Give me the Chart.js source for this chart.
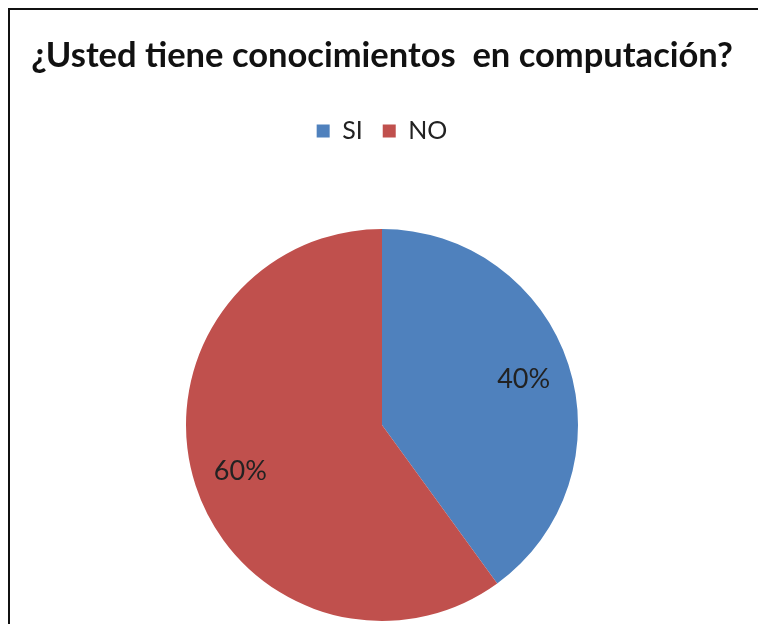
<!DOCTYPE html>
<html lang="es">
<head>
<meta charset="UTF-8">
<title>¿Usted tiene conocimientos en computación?</title>
<style>
  body{margin:0;background:#fff;overflow:hidden}
  #marco{position:absolute;left:8px;top:8px;width:760px;height:630px;
         border-left:2px solid #111;border-top:2px solid #111}
  #wrap{position:absolute;left:0;top:0;width:758px;height:624px}
</style>
</head>
<body>
  <div id="marco"></div>
  <div id="wrap"><canvas id="chart"></canvas></div>

<script src="https://cdn.jsdelivr.net/npm/chart.js@4.4.0"></script>
<script>
/* ---------- Datos ---------- */
const titulo     = '¿Usted tiene conocimientos  en computación?';
const categorias = ['SI', 'NO'];
const valores    = [40, 60];
const colores    = ['#4F81BD', '#C0504D'];

/* ---------- Etiquetas de porcentaje sobre cada sector ---------- */
const etiquetas = {
  id: 'etiquetas',
  afterDatasetsDraw(chart){
    const ctx = chart.ctx;
    const meta = chart.getDatasetMeta(0);
    ctx.save();
    ctx.font = '27px Lato, "Open Sans", sans-serif';
    ctx.fillStyle = '#222';
    ctx.textAlign = 'center';
    ctx.textBaseline = 'middle';
    meta.data.forEach((arc, i) => {
      const p = arc.getProps(['x','y','startAngle','endAngle','outerRadius'], true);
      const mid = (p.startAngle + p.endAngle) / 2;
      const r = p.outerRadius * 0.76;
      ctx.fillText(valores[i] + '%', p.x + Math.cos(mid) * r, p.y + Math.sin(mid) * r);
    });
    ctx.restore();
  }
};

new Chart(document.getElementById('chart'), {
  type: 'pie',
  data: {
    labels: categorias,
    datasets: [{ data: valores, backgroundColor: colores, borderWidth: 0 }]
  },
  options: {
    responsive: true,
    maintainAspectRatio: false,
    animation: false,
    layout: { padding: { left: 6, right: 0, top: 0, bottom: 3 } },
    plugins: {
      title: {
        display: true,
        text: titulo,
        color: '#111',
        font: { family: 'Lato, "Open Sans", sans-serif', size: 34.5, weight: 'bold', lineHeight: 1.2 },
        padding: { top: 35.3, bottom: 21.8 }
      },
      legend: {
        position: 'top',
        labels: {
          boxWidth: 13, boxHeight: 13, padding: 20,
          color: '#222',
          font: { family: 'Lato, "Open Sans", sans-serif', size: 25 }
        }
      },
      // espaciador vacío entre leyenda y gráfico
      subtitle: {
        display: true, text: '', weight: 500,
        font: { size: 10, lineHeight: 1 },
        padding: { top: 32.75, bottom: 32.75 }
      },
      tooltip: { enabled: false }
    }
  },
  plugins: [etiquetas]
});
</script>
</body>
</html>
